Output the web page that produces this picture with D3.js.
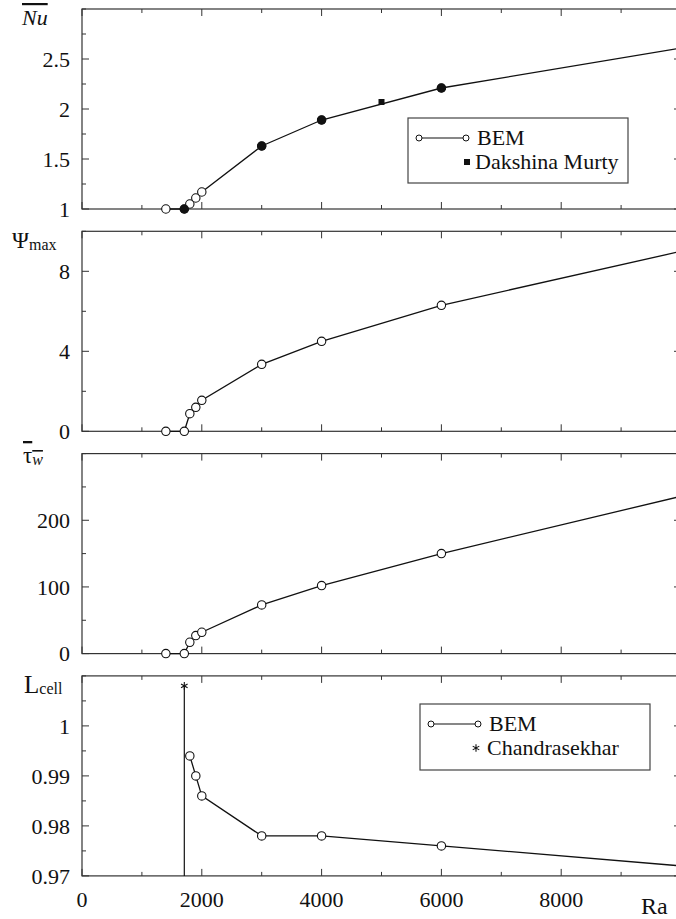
<!DOCTYPE html>
<html>
<head>
<meta charset="utf-8">
<script src="https://cdn.jsdelivr.net/npm/d3@7"></script>
<style>
  body { margin: 0; background: #fff; }
</style>
</head>
<body>
<svg id="chart" width="676" height="919"></svg>
<script>
// Ra values (shared x axis)
const bemRa = [1400, 1708, 1800, 1900, 2000, 3000, 4000, 6000, 10000];
const bemNu = [1.0, 1.0, 1.05, 1.11, 1.17, 1.63, 1.89, 2.21, 2.61];
const bemPsi = [0, 0, 0.88, 1.2, 1.55, 3.35, 4.5, 6.3, 9.0];
const bemTau = [0, 0, 17, 27, 32, 73, 102, 150, 236];
const cellRa = [1800, 1900, 2000, 3000, 4000, 6000, 10000];
const cellL = [0.994, 0.990, 0.986, 0.978, 0.978, 0.976, 0.972];
// Dakshina Murty
const dmRa = [1708, 3000, 4000, 5000, 6000];
const dmNu = [1.0, 1.63, 1.89, 2.07, 2.21];
// Chandrasekhar critical point
const chRa = [1708];
const chL = [1.008];

const xTicks = d3.range(0, 10001, 1000);
const xLabels = [0, 2000, 4000, 6000, 8000];

const svg = d3.select("#chart");
const left = 82, right = 681, panelH = 200, gap = 22.3, firstTop = 9;
const x = d3.scaleLinear().domain([0, 10000]).range([left, right]);
const line = d3.line();
const ink = "#111";
const star = d3.symbol(d3.symbolAsterisk, 40);

const panels = [
  { domain: [1, 3], step: 0.25, labels: [1, 1.5, 2, 2.5] },
  { domain: [0, 10], step: 2, labels: [0, 4, 8] },
  { domain: [0, 300], step: 50, labels: [0, 100, 200] },
  { domain: [0.97, 1.01], step: 0.005, labels: [0.97, 0.98, 0.99, 1] }
];

panels.forEach((p, i) => {
  const top = firstTop + i * (panelH + gap);
  const bottom = top + panelH;
  p.y = d3.scaleLinear().domain(p.domain).range([bottom, top]);
  p.top = top; p.bottom = bottom;
  const g = svg.append("g");

  // frame
  g.append("rect")
    .attr("x", left).attr("y", top)
    .attr("width", right - left).attr("height", panelH)
    .attr("fill", "none").attr("stroke", "#333").attr("stroke-width", 1.2);

  // x ticks, inward on bottom and top
  xTicks.forEach(t => {
    const len = t % 2000 === 0 ? 7 : 4;
    g.append("line").attr("x1", x(t)).attr("x2", x(t))
      .attr("y1", bottom).attr("y2", bottom - len).attr("stroke", "#333");
    g.append("line").attr("x1", x(t)).attr("x2", x(t))
      .attr("y1", top).attr("y2", top + len).attr("stroke", "#333");
  });

  // y ticks, inward on left and right
  const yt = d3.range(p.domain[0], p.domain[1] + p.step / 2, p.step);
  yt.forEach(t => {
    const major = p.labels.some(l => Math.abs(l - t) < 1e-9);
    const len = major ? 7 : 4;
    g.append("line").attr("x1", left).attr("x2", left + len)
      .attr("y1", p.y(t)).attr("y2", p.y(t)).attr("stroke", "#333");
    g.append("line").attr("x1", right).attr("x2", right - len)
      .attr("y1", p.y(t)).attr("y2", p.y(t)).attr("stroke", "#333");
  });

  g.selectAll(".ylab").data(p.labels).join("text")
    .attr("x", 70).attr("y", d => p.y(d)).attr("dy", "0.35em")
    .attr("text-anchor", "end").attr("font-size", 22)
    .text(d => d);
});

// x tick labels under last panel
svg.selectAll(".xlab").data(xLabels).join("text")
  .attr("x", d => x(d)).attr("y", 907)
  .attr("text-anchor", "middle").attr("font-size", 22)
  .text(d => d);
svg.append("text").attr("x", 641).attr("y", 914).attr("font-size", 24).text("Ra");

function drawSeries(p, ra, vals, markerMax) {
  const pts = ra.map((r, i) => [x(r), p.y(vals[i])]);
  svg.append("path").attr("d", line(pts))
    .attr("fill", "none").attr("stroke", ink).attr("stroke-width", 1.3);
  svg.append("g").selectAll("circle")
    .data(pts.filter((d, i) => ra[i] < markerMax)).join("circle")
    .attr("cx", d => d[0]).attr("cy", d => d[1]).attr("r", 4.2)
    .attr("fill", "#fff").attr("stroke", ink).attr("stroke-width", 1.1);
}

drawSeries(panels[0], bemRa, bemNu, 10000);
drawSeries(panels[1], bemRa, bemPsi, 10000);
drawSeries(panels[2], bemRa, bemTau, 10000);
drawSeries(panels[3], cellRa, cellL, 10000);

// Dakshina Murty: filled where it coincides with BEM, square otherwise
const p0 = panels[0];
dmRa.forEach((r, i) => {
  if (bemRa.includes(r)) {
    svg.append("circle").attr("cx", x(r)).attr("cy", p0.y(dmNu[i])).attr("r", 4.6).attr("fill", ink);
  } else {
    svg.append("rect").attr("x", x(r) - 3).attr("y", p0.y(dmNu[i]) - 3)
      .attr("width", 6).attr("height", 6).attr("fill", ink);
  }
});

// Chandrasekhar vertical line + asterisk
const p3 = panels[3];
chRa.forEach((r, i) => {
  svg.append("line").attr("x1", x(r)).attr("x2", x(r))
    .attr("y1", p3.bottom).attr("y2", p3.y(chL[i]))
    .attr("stroke", ink).attr("stroke-width", 1.2);
  svg.append("path").attr("d", star)
    .attr("transform", `translate(${x(r)},${p3.y(chL[i])})`)
    .attr("fill", "none").attr("stroke", ink).attr("stroke-width", 1.1);
});

// axis titles
svg.append("text").attr("x", 22).attr("y", 25).attr("font-size", 22)
  .attr("font-style", "italic").style("text-decoration", "overline").text("Nu");
const psi = svg.append("text").attr("x", 12).attr("y", 248).attr("font-size", 23);
psi.append("tspan").text("Ψ");
psi.append("tspan").attr("font-size", 16).attr("dy", 2).text("max");
const tau = svg.append("text").attr("x", 23).attr("y", 463).attr("font-size", 23)
  .style("text-decoration", "overline");
tau.append("tspan").text("τ");
tau.append("tspan").attr("font-size", 16).attr("font-style", "italic").attr("dy", 2).text("w");
const lc = svg.append("text").attr("x", 24).attr("y", 693).attr("font-size", 25);
lc.append("tspan").text("L");
lc.append("tspan").attr("font-size", 16).attr("dy", 1).text("cell");

// legends
function legend(bx, by, bw, bh, second, marker) {
  const g = svg.append("g");
  g.append("rect").attr("x", bx).attr("y", by).attr("width", bw).attr("height", bh)
    .attr("fill", "#fff").attr("stroke", "#444").attr("stroke-width", 1.2);
  const ly = by + 20;
  g.append("line").attr("x1", bx + 11).attr("x2", bx + 58).attr("y1", ly).attr("y2", ly)
    .attr("stroke", ink).attr("stroke-width", 1.2);
  [bx + 11, bx + 58].forEach(cx => g.append("circle").attr("cx", cx).attr("cy", ly).attr("r", 3)
    .attr("fill", "#fff").attr("stroke", ink));
  g.append("text").attr("x", bx + 69).attr("y", ly + 7).attr("font-size", 22).text("BEM");
  const ly2 = by + 44;
  if (marker === "square") {
    g.append("rect").attr("x", bx + 56).attr("y", ly2 - 3).attr("width", 6).attr("height", 6).attr("fill", ink);
  } else {
    g.append("path").attr("d", star).attr("transform", `translate(${bx + 56},${ly2})`)
      .attr("fill", "none").attr("stroke", ink).attr("stroke-width", 1.1);
  }
  g.append("text").attr("x", bx + 67).attr("y", ly2 + 7).attr("font-size", 22).text(second);
}
legend(408, 118, 220, 65, "Dakshina Murty", "square");
legend(420, 704, 230, 66, "Chandrasekhar", "star");

svg.selectAll("text").style("font-family", "Liberation Serif").attr("fill", ink);
</script>
</body>
</html>
